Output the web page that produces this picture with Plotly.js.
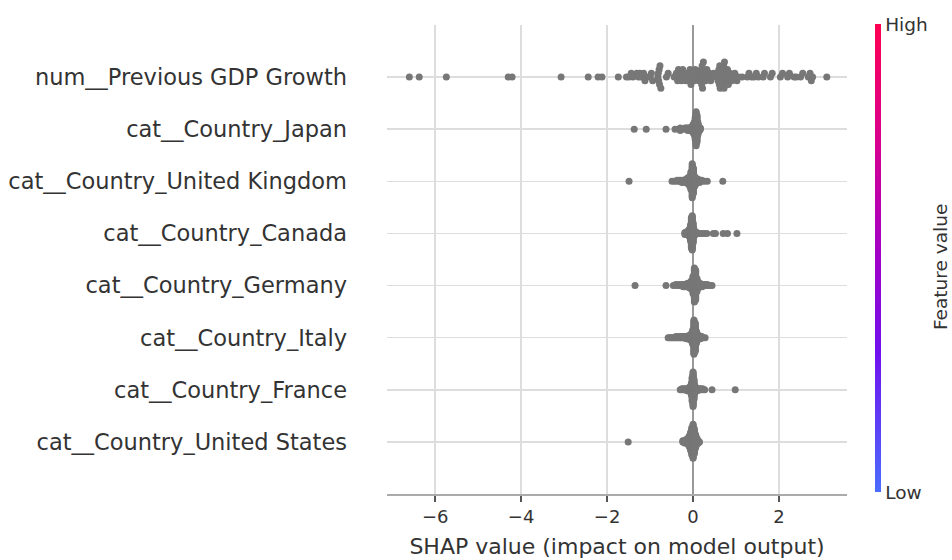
<!DOCTYPE html>
<html>
<head>
<meta charset="utf-8">
<script src="https://cdn.plot.ly/plotly-3.0.1.min.js"></script>
<style>
  html, body { margin: 0; padding: 0; background: #ffffff; }
  #chart { width: 952px; height: 560px; }
</style>
</head>
<body>
<div id="chart"></div>
<script>
// Feature names, top row first
const features = [
  'num__Previous GDP Growth',
  'cat__Country_Japan',
  'cat__Country_United Kingdom',
  'cat__Country_Canada',
  'cat__Country_Germany',
  'cat__Country_Italy',
  'cat__Country_France',
  'cat__Country_United States'
];

// SHAP values per feature (value list, with repeat counts where many samples share a value)
const gdpGrowthShap = [
  -6.60, -6.37, -5.74, -4.30, -4.21, -3.07, -2.44, -2.21, -2.12, -1.74,
  -1.55, -1.49, -1.44, -1.40, -1.31, -1.27, -1.24, -1.21, -1.15, -1.12, -1.08,
  -1.00, -0.97, -0.94, -0.82, -0.81, -0.80, -0.79, -0.78, -0.77, -0.75, -0.62, -0.58,
  -0.44, -0.41, -0.39, -0.36, -0.34, -0.31, -0.29, -0.27, -0.24, -0.22, -0.19, -0.17,
  -0.14, -0.12, -0.09, -0.07, -0.05, -0.03, -0.01,
  0.02, 0.05, 0.08, 0.10, 0.13, 0.16, 0.17, 0.18, 0.19, 0.20, 0.21, 0.22, 0.24, 0.25,
  0.27, 0.29, 0.32, 0.35, 0.38, 0.41, 0.45, 0.48,
  0.55, 0.57, 0.58, 0.60, 0.61, 0.62, 0.63, 0.65, 0.66, 0.67, 0.68, 0.70, 0.71, 0.72,
  0.73, 0.75, 0.77, 0.78, 0.80, 0.82, 0.84, 0.86,
  0.90, 0.93, 0.97, 1.02, 1.05, 1.14, 1.26, 1.30, 1.36, 1.42, 1.47, 1.52, 1.63, 1.66,
  1.80, 1.84, 2.03, 2.08, 2.20, 2.24, 2.35, 2.40, 2.50, 2.55, 2.68, 2.72, 2.75, 2.78, 3.11
];

const japanShap  = [-1.37, -1.09, -0.63, -0.42, -0.30, -0.19, -0.15, -0.12, -0.08, -0.04, 0.00, 0.03, 0.05, 0.07, 0.09, 0.11, 0.13, 0.15, 0.17];
const japanCount = [1, 1, 1, 1, 3, 2, 2, 3, 3, 4, 8, 12, 20, 30, 24, 12, 6, 3, 2];

const ukShap  = [-1.49, -0.49, -0.43, -0.37, -0.31, -0.26, -0.21, -0.16, -0.12, -0.08, -0.05, -0.02, 0.01, 0.04, 0.07, 0.11, 0.15, 0.20, 0.26, 0.33, 0.69];
const ukCount = [1, 1, 1, 2, 2, 3, 3, 4, 6, 9, 16, 30, 22, 9, 5, 4, 3, 2, 1, 1, 1];

const canadaShap  = [-0.19, -0.13, -0.09, -0.06, -0.04, -0.02, 0.00, 0.02, 0.05, 0.09, 0.14, 0.20, 0.26, 0.32, 0.47, 0.52, 0.70, 0.80, 1.02];
const canadaCount = [3, 4, 8, 16, 30, 34, 20, 8, 3, 2, 1, 1, 1, 1, 1, 1, 1, 1, 1];

const germanyShap  = [-1.35, -0.63, -0.46, -0.40, -0.34, -0.28, -0.23, -0.18, -0.13, -0.08, -0.04, 0.00, 0.03, 0.06, 0.09, 0.12, 0.16, 0.21, 0.27, 0.33, 0.39, 0.44];
const germanyCount = [1, 1, 1, 2, 2, 2, 3, 3, 4, 5, 8, 16, 30, 26, 12, 6, 4, 3, 2, 2, 1, 1];

const italyShap  = [-0.58, -0.55, -0.52, -0.49, -0.46, -0.43, -0.40, -0.37, -0.34, -0.31, -0.28, -0.25, -0.22, -0.19, -0.16, -0.13, -0.10, -0.07, -0.04, -0.01, 0.02, 0.05, 0.08, 0.11, 0.14, 0.17, 0.20, 0.24, 0.28];
const italyCount = [1, 1, 1, 1, 1, 1, 2, 1, 2, 1, 2, 2, 2, 2, 3, 3, 4, 5, 8, 14, 34, 28, 12, 5, 4, 3, 2, 1, 1];

const franceShap  = [-0.30, -0.26, -0.22, -0.18, -0.14, -0.10, -0.07, -0.04, -0.02, 0.00, 0.02, 0.04, 0.07, 0.10, 0.14, 0.18, 0.22, 0.27, 0.44, 0.98];
const franceCount = [1, 2, 2, 2, 3, 4, 6, 12, 24, 34, 20, 8, 4, 3, 2, 2, 2, 1, 1, 1];

const usShap  = [-1.51, -0.24, -0.20, -0.16, -0.12, -0.09, -0.06, -0.03, 0.00, 0.03, 0.06, 0.09, 0.12, 0.15];
const usCount = [1, 2, 3, 4, 6, 10, 16, 24, 30, 22, 12, 6, 3, 1];

// Axis ticks
const xTickVals = [-6, -4, -2, 0, 2];
const xTickText = ['\u22126', '\u22124', '\u22122', '0', '2'];
const colorTickText = ['Low', 'High'];

function expand(vals, counts) {
  const out = [];
  vals.forEach((v, i) => {
    const c = counts ? counts[i] : 1;
    for (let k = 0; k < c; k++) out.push(v);
  });
  return out;
}

// Beeswarm offsets: bin values along x and stack points alternately above/below the row
function swarm(vals, rowPos) {
  const nbins = 100, rowHeight = 0.4;
  const mn = Math.min(...vals), mx = Math.max(...vals);
  const quant = vals.map(v => Math.round(nbins * (v - mn) / (mx - mn + 1e-8)));
  const order = vals.map((_, i) => i).sort((a, b) => quant[a] - quant[b] || a - b);
  const ys = new Array(vals.length).fill(0);
  let layer = 0, last = -1;
  for (const ind of order) {
    if (quant[ind] !== last) layer = 0;
    ys[ind] = Math.ceil(layer / 2) * ((layer % 2) * 2 - 1);
    layer++;
    last = quant[ind];
  }
  const m = Math.max(...ys.map(y => y + 1));
  const s = 0.9 * (rowHeight / m);
  return ys.map(y => rowPos + y * s);
}

const rows = [
  expand(gdpGrowthShap),
  expand(japanShap, japanCount),
  expand(ukShap, ukCount),
  expand(canadaShap, canadaCount),
  expand(germanyShap, germanyCount),
  expand(italyShap, italyCount),
  expand(franceShap, franceCount),
  expand(usShap, usCount)
];

const nRows = features.length;
const traces = rows.map((vals, i) => {
  const pos = nRows - 1 - i;
  return {
    type: 'scatter',
    mode: 'markers',
    x: vals,
    y: swarm(vals, pos),
    marker: { color: '#777777', size: 7, line: { width: 0 } },
    hoverinfo: 'x',
    showlegend: false,
    cliponaxis: false
  };
});

// Colour scale legend for feature value
traces.push({
  type: 'scatter',
  mode: 'markers',
  x: [null],
  y: [null],
  showlegend: false,
  hoverinfo: 'skip',
  marker: {
    color: [0],
    cmin: 0,
    cmax: 1,
    colorscale: [
      [0, '#4a6cff'],
      [0.3, '#7010ee'],
      [0.5, '#a000c8'],
      [0.75, '#d8008e'],
      [1, '#ff0052']
    ],
    showscale: true,
    colorbar: {
      thickness: 6,
      thicknessmode: 'pixels',
      len: 468,
      lenmode: 'pixels',
      x: 1.061,
      xanchor: 'left',
      y: 0.503,
      yanchor: 'middle',
      xpad: 0,
      ypad: 0,
      outlinewidth: 0,
      tickmode: 'array',
      tickvals: [0, 1],
      ticktext: colorTickText,
      ticks: '',
      tickfont: { family: 'DejaVu Sans', size: 18.5, color: '#333333' },
      title: { text: '' }
    }
  }
});

const layout = {
  width: 952,
  height: 560,
  margin: { l: 387, r: 105, t: 25, b: 66 },
  paper_bgcolor: '#ffffff',
  plot_bgcolor: '#ffffff',
  font: { family: 'DejaVu Sans', color: '#333333' },
  showlegend: false,
  xaxis: {
    range: [-7.12, 3.58],
    tickmode: 'array',
    tickvals: xTickVals,
    ticktext: xTickText,
    tickfont: { size: 18, color: '#333333' },
    ticks: 'outside',
    ticklen: 6,
    tickwidth: 1.5,
    tickcolor: '#555555',
    showline: true,
    linecolor: '#aaaaaa',
    linewidth: 1.5,
    showgrid: true,
    gridcolor: '#dddddd',
    gridwidth: 1.5,
    zeroline: true,
    zerolinecolor: '#999999',
    zerolinewidth: 1.2,
    title: {
      text: 'SHAP value (impact on model output)',
      font: { size: 22, color: '#333333' },
      standoff: 12
    },
    fixedrange: true
  },
  yaxis: {
    range: [-1, nRows],
    tickmode: 'array',
    tickvals: features.map((_, i) => nRows - 1 - i),
    ticktext: features,
    tickfont: { size: 22.5, color: '#333333' },
    ticks: '',
    ticklabelstandoff: 39,
    showline: false,
    showgrid: true,
    gridcolor: '#dddddd',
    gridwidth: 1.5,
    zeroline: false,
    fixedrange: true
  },
  annotations: [{
    text: 'Feature value',
    xref: 'paper',
    yref: 'paper',
    x: 1.2022,
    y: 0.484,
    xanchor: 'center',
    yanchor: 'middle',
    textangle: -90,
    showarrow: false,
    font: { family: 'DejaVu Sans', size: 18.5, color: '#333333' }
  }]
};

Plotly.newPlot('chart', traces, layout, { displayModeBar: false, staticPlot: true });
</script>
</body>
</html>
